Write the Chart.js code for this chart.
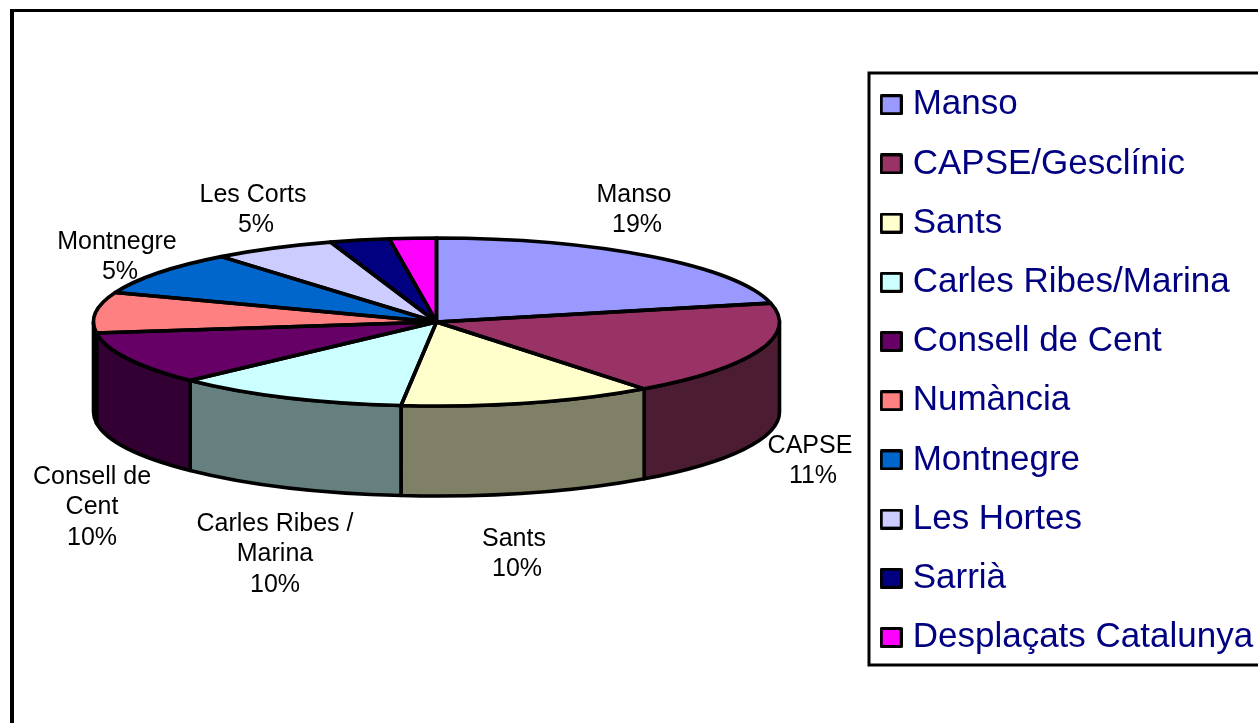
<!DOCTYPE html>
<html>
<head>
<meta charset="utf-8">
<style>html,body{margin:0;padding:0;background:#fff;overflow:hidden}canvas{display:block}</style>
<script src="https://cdn.jsdelivr.net/npm/chart.js@4"></script>
</head>
<body>
<canvas id="c" width="1258" height="723"></canvas>
<script>
const categories = ['Manso','CAPSE/Gesclínic','Sants','Carles Ribes/Marina','Consell de Cent','Numància','Montnegre','Les Hortes','Sarrià','Desplaçats Catalunya'];
const shares = [21.4,18.25,12.0,11.1,10.15,7.8,8.5,5.8,2.8,2.2];
const sliceColors = ['#9999FF','#993366','#FFFFCC','#CCFFFF','#660066','#FF8080','#0066CC','#CCCCFF','#000080','#FF00FF'];
const wallColors = ['#4D4D80','#4C1C33','#808066','#668080','#330033','#804040','#003366','#666680','#000040','#800080'];
const calloutLines = [
  ['Manso','19%'],['CAPSE','11%'],['Sants','10%'],['Carles Ribes /','Marina','10%'],
  ['Consell de','Cent','10%'],['Montnegre','5%'],['Les Corts','5%']
];
const calloutPlaces = [[634,195],[810,446],[514,539],[275,524],[92,477],[117,242],[253,195]];

const tilt = {cx:436.5, cy:322, rx:343, ry:84, depth:90};
const INK = '#000';

function swatch(color){
  const s = document.createElement('canvas');
  s.width = 23; s.height = 21;
  const g = s.getContext('2d');
  g.fillStyle = color; g.fillRect(1,1,21,19);
  g.strokeStyle = INK; g.lineWidth = 3; g.lineJoin='round';
  g.strokeRect(1.5,1.5,20,18);
  return s;
}

const pie3d = {
  id:'pie3d',
  beforeDraw(chart){
    const c = chart.ctx;
    c.save();
    c.fillStyle = '#fff'; c.fillRect(0,0,chart.width,chart.height);
    c.fillStyle = INK;
    c.fillRect(10,9,chart.width-10,3);
    c.fillRect(10,9,4,chart.height-9);
    c.lineWidth = 3; c.strokeStyle = INK;
    c.strokeRect(869,73,600,592);
    c.restore();
  },
  afterLayout(chart){
    const lg = chart.legend;
    const h = lg.bottom - lg.top;
    lg.left = 863; lg.right = lg.left + lg.width;
    lg.top = 63; lg.bottom = lg.top + h;
  },
  beforeDatasetsDraw(chart){
    const c = chart.ctx, t = tilt;
    const arcs = chart.getDatasetMeta(0).data;
    c.save();
    c.lineWidth = 3.6; c.strokeStyle = INK; c.lineJoin = 'round';
    arcs.forEach((a,i)=>{
      const a0 = Math.max(norm(a.startAngle),0), a1raw = norm(a.startAngle)+(a.endAngle-a.startAngle);
      const a1 = Math.min(a1raw,Math.PI);
      if(a1<=a0) return;
      c.beginPath();
      c.ellipse(t.cx,t.cy,t.rx,t.ry,0,a0,a1);
      c.ellipse(t.cx,t.cy+t.depth,t.rx,t.ry,0,a1,a0,true);
      c.closePath();
      c.fillStyle = wallColors[i];
      c.fill(); c.stroke();
    });
    c.restore();
    const first = arcs[0];
    const sx = t.rx/first.outerRadius, sy = t.ry/first.outerRadius;
    c.save();
    c.translate(t.cx,t.cy); c.scale(sx,sy); c.translate(-first.x,-first.y);
  },
  afterDatasetsDraw(chart){
    const c = chart.ctx, t = tilt;
    c.restore();
    const arcs = chart.getDatasetMeta(0).data;
    c.save();
    c.lineWidth = 3.6; c.strokeStyle = INK; c.lineJoin = 'round';
    arcs.forEach(a=>{
      c.beginPath();
      c.moveTo(t.cx,t.cy);
      c.ellipse(t.cx,t.cy,t.rx,t.ry,0,a.startAngle,a.endAngle);
      c.closePath();
      c.stroke();
    });
    c.fillStyle = INK;
    c.font = '25px "Liberation Sans", Arial, sans-serif';
    c.textAlign = 'center'; c.textBaseline = 'middle';
    calloutLines.forEach((lines,i)=>{
      const [x,y] = calloutPlaces[i];
      lines.forEach((s,j)=>c.fillText(s,x+(lines.length===2&&j===1?3:0),y+j*30.5));
    });
    c.restore();
  }
};
function norm(a){
  let v = a % (2*Math.PI);
  if(v > Math.PI) v -= 2*Math.PI;
  if(v < -Math.PI) v += 2*Math.PI;
  return v;
}

new Chart(document.getElementById('c'),{
  type:'pie',
  plugins:[pie3d],
  data:{labels:categories,datasets:[{data:shares,backgroundColor:sliceColors,borderWidth:0,clip:false}]},
  options:{
    responsive:false,animation:false,devicePixelRatio:1,
    events:[],
    plugins:{
      tooltip:{enabled:false},
      legend:{
        display:true,position:'right',align:'start',
        labels:{
          color:'#000080',
          font:{family:'"Liberation Sans", Arial, sans-serif',size:35},
          padding:24.2,usePointStyle:true,pointStyleWidth:8,boxHeight:22,
          generateLabels(chart){
            return categories.map((t,i)=>({text:t,fontColor:'#000080',pointStyle:swatch(sliceColors[i]),fillStyle:sliceColors[i],strokeStyle:INK,lineWidth:0,hidden:false,index:i}));
          }
        }
      }
    }
  }
});
</script>
</body>
</html>
